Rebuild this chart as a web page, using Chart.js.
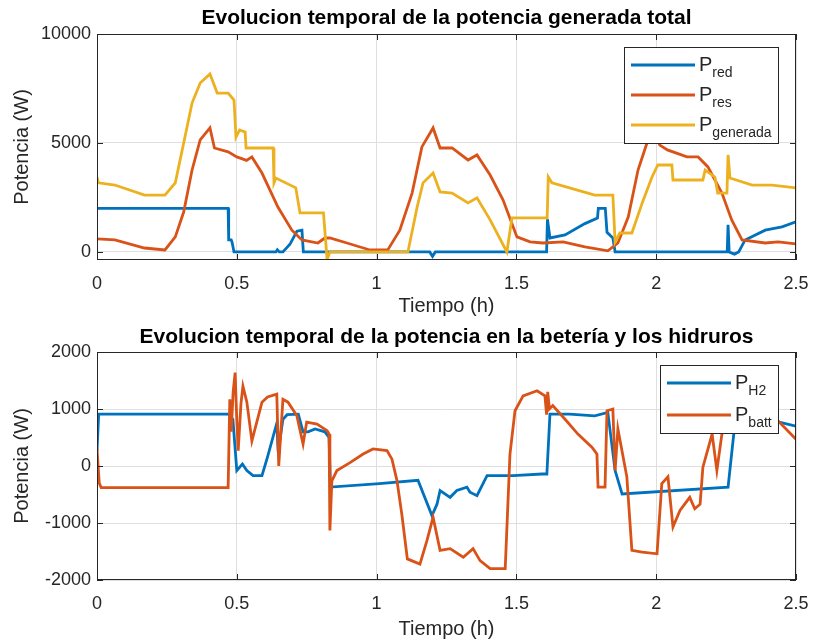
<!DOCTYPE html>
<html>
<head>
<meta charset="utf-8">
<script src="https://cdn.jsdelivr.net/npm/chart.js@4.4.1/dist/chart.umd.min.js"></script>
<style>
  body { margin: 0; background: #fff; }
  #wrap { position: relative; width: 813px; height: 641px; }
  canvas { position: absolute; left: 0; }
</style>
</head>
<body>
<div id="wrap">
  <canvas id="top" width="813" height="320" style="top:0;width:813px;height:320px"></canvas>
  <canvas id="bot" width="813" height="321" style="top:320px;width:813px;height:321px"></canvas>
</div>
<script>
// ticks
const xTicks = [0, 0.5, 1, 1.5, 2, 2.5];
const yTicksTop = [0, 5000, 10000];
const yTicksBot = [-2000, -1000, 0, 1000, 2000];

// --- potencia generada total (W) vs tiempo (h) ---
const tRed = [0, 0.469, 0.471, 0.48, 0.483, 0.49, 0.64, 0.645, 0.652, 0.665, 0.69, 0.715, 0.733, 0.738,
  1.19, 1.2, 1.21, 1.608, 1.611, 1.62, 1.674, 1.745, 1.79, 1.793, 1.818, 1.824, 1.845, 1.853,
  2.254, 2.257, 2.261, 2.28, 2.295, 2.318, 2.39, 2.45, 2.5];
const pRed = [2000, 2000, 550, 550, 450, 0, 0, 100, 0, 0, 350, 950, 1000, 0,
  0, -200, 0, 0, 1500, 640, 780, 1300, 1560, 2000, 2000, 900, 640, 0,
  0, 1240, 0, -100, 0, 550, 1000, 1150, 1380];

const tRes = [0, 0.064, 0.17, 0.243, 0.28, 0.31, 0.34, 0.369, 0.404, 0.42, 0.469, 0.50, 0.535, 0.554,
  0.59, 0.647, 0.697, 0.733, 0.79, 0.815, 0.833, 0.894, 0.976, 1.04, 1.083, 1.127, 1.162, 1.202,
  1.227, 1.27, 1.327, 1.359, 1.406, 1.452, 1.502, 1.549, 1.595, 1.667, 1.745, 1.827, 1.863, 1.90,
  1.935, 1.967, 1.985, 2.013, 2.04, 2.11, 2.15, 2.185, 2.235, 2.27, 2.307, 2.39, 2.436, 2.5];
const pRes = [600, 550, 180, 90, 690, 1830, 3760, 5140, 5690, 4770, 4590, 4360, 4200, 4360,
  3620, 2060, 1000, 550, 410, 640, 640, 410, 90, 90, 1000, 2700, 4820, 5690,
  4770, 4770, 4220, 4450, 3530, 2390, 690, 460, 410, 460, 230, 50, 410, 1600,
  3760, 5000, 5700, 4900, 4680, 4360, 4360, 3900, 2700, 1470, 550, 410, 460, 370];

const tGen = [0, 0.005, 0.064, 0.17, 0.243, 0.28, 0.31, 0.34, 0.369, 0.404, 0.43, 0.469, 0.49, 0.497,
  0.51, 0.53, 0.533, 0.63, 0.633, 0.64, 0.711, 0.726, 0.81, 0.823, 0.833, 1.112, 1.145, 1.166,
  1.202, 1.227, 1.27, 1.327, 1.359, 1.406, 1.466, 1.484, 1.61, 1.614, 1.627, 1.69, 1.78, 1.845,
  1.853, 1.87, 1.913, 1.95, 1.985, 2.006, 2.056, 2.06, 2.167, 2.175, 2.21, 2.22, 2.253, 2.257,
  2.264, 2.343, 2.414, 2.5];
const pGen = [3440, 3170, 3070, 2610, 2610, 3170, 5000, 6830, 7750, 8170, 7290, 7290, 6970, 5270,
  5600, 5500, 4770, 4770, 3170, 3390, 2940, 1790, 1790, -350, 0, 0, 2060, 3170,
  3620, 2750, 2700, 2250, 2480, 1470, 0, 1560, 1560, 3440, 3170, 2940, 2610, 2610,
  460, 870, 870, 2250, 3440, 3990, 3990, 3300, 3300, 3760, 3440, 2700, 2700, 4450,
  3390, 3070, 3070, 2940];

// --- potencia bateria / hidruros (W) vs tiempo (h) ---
const tH2 = [0, 0.006, 0.469, 0.486, 0.50, 0.52, 0.536, 0.558, 0.59, 0.61, 0.643, 0.648, 0.665, 0.68,
  0.72, 0.737, 0.755, 0.78, 0.815, 0.83, 0.835, 1.01, 1.148, 1.198, 1.216, 1.227, 1.263, 1.287,
  1.323, 1.334, 1.359, 1.395, 1.488, 1.592, 1.609, 1.62, 1.69, 1.78, 1.827, 1.853, 1.878, 2.257,
  2.28, 2.31, 2.4, 2.44, 2.5];
const pH2 = [270, 910, 910, 820, -80, 35, -80, -170, -170, 160, 750, 250, 820, 900,
  910, 600, 600, 650, 600, 500, -370, -310, -250, -870, -670, -430, -550, -430,
  -370, -460, -520, -170, -170, -140, -140, 910, 910, 880, 940, -80, -490, -370,
  680, 900, 850, 770, 700];

const tBatt = [0, 0.008, 0.015, 0.469, 0.475, 0.48, 0.487, 0.494, 0.50, 0.505, 0.515, 0.522, 0.536, 0.554,
  0.59, 0.61, 0.643, 0.65, 0.665, 0.683, 0.715, 0.737, 0.75, 0.787, 0.823, 0.83, 0.833, 0.84,
  0.858, 0.905, 0.952, 0.987, 1.037, 1.055, 1.073, 1.09, 1.11, 1.155, 1.18, 1.202, 1.227, 1.263,
  1.31, 1.345, 1.37, 1.406, 1.46, 1.477, 1.495, 1.524, 1.574, 1.602, 1.608, 1.612, 1.618, 1.63,
  1.674, 1.72, 1.77, 1.788, 1.792, 1.817, 1.824, 1.845, 1.853, 1.863, 1.895, 1.913, 1.95, 2.003,
  2.02, 2.042, 2.06, 2.085, 2.12, 2.138, 2.157, 2.167, 2.2, 2.217, 2.235, 2.26, 2.3, 2.4, 2.44, 2.5];
const pBatt = [300, -300, -380, -380, 1170, 600, 1300, 1640, 800, 270, 1100, 1400, 1120, 440,
  1120, 1210, 1260, 0, 1170, 1120, 880, 385, 770, 735, 620, 560, -1130, -260,
  -80, 60, 210, 300, 270, 120, -260, -840, -1630, -1720, -1310, -900, -1480, -1450,
  -1600, -1450, -1660, -1800, -1800, 210, 970, 1230, 1320, 1230, 900, 1300, 1000, 1060,
  820, 560, 330, 210, -370, -370, 970, 1000, -80, 650, -190, -1480, -1510, -1540,
  -310, -190, -1070, -780, -550, -750, -670, -20, 560, -80, 560, 900, 950, 950, 770, 470];

const BLUE = '#0072BD', ORANGE = '#D95319', YELLOW = '#EDB120';
const INK = '#262626';
const FONT = "'Liberation Sans', Arial, Helvetica, sans-serif";

const zip = (t, p) => t.map((x, i) => ({ x, y: p[i] }));

// caja de ejes estilo MATLAB, con marcas hacia dentro
const boxPlugin = {
  id: 'box',
  afterDatasetsDraw(chart) {
    const { ctx, chartArea: a, scales } = chart;
    ctx.save();
    ctx.strokeStyle = INK;
    ctx.lineWidth = 1;
    ctx.strokeRect(a.left + 0.5, a.top + 0.5, a.width - 1, a.height - 1);
    ctx.beginPath();
    for (const t of scales.x.ticks) {
      const px = Math.round(scales.x.getPixelForValue(t.value)) + 0.5;
      ctx.moveTo(px, a.bottom); ctx.lineTo(px, a.bottom - 6);
      ctx.moveTo(px, a.top); ctx.lineTo(px, a.top + 6);
    }
    for (const t of scales.y.ticks) {
      const py = Math.round(scales.y.getPixelForValue(t.value)) + 0.5;
      ctx.moveTo(a.left, py); ctx.lineTo(a.left + 6, py);
      ctx.moveTo(a.right, py); ctx.lineTo(a.right - 6, py);
    }
    ctx.stroke();
    ctx.restore();
  }
};

// leyenda con subindices (P_red, P_H2 ...)
const subLegend = {
  id: 'subLegend',
  afterDraw(chart, args, opts) {
    const { ctx, chartArea: a } = chart;
    const big = `20px ${FONT}`, small = `14px ${FONT}`;
    const items = chart.data.datasets.map(d => {
      const [b, s] = d.label.split('_');
      return { b, s, c: d.borderColor };
    });
    ctx.save();
    let tw = 0;
    items.forEach(it => {
      ctx.font = big; it.w1 = ctx.measureText(it.b).width;
      ctx.font = small; tw = Math.max(tw, it.w1 + ctx.measureText(it.s).width);
    });
    const lineLen = 64, padL = 7, gap = 4, padR = 6;
    const w = Math.round(padL + lineLen + gap + tw + padR);
    const h = opts.padV * 2 + opts.rowH * (items.length - 1);
    const x = Math.round(a.right - opts.right - w), y = Math.round(a.top + opts.top);
    ctx.fillStyle = '#fff';
    ctx.fillRect(x, y, w, h);
    ctx.strokeStyle = INK; ctx.lineWidth = 1;
    ctx.strokeRect(x + 0.5, y + 0.5, w, h);
    items.forEach((it, i) => {
      const cy = y + opts.padV + i * opts.rowH;
      ctx.strokeStyle = it.c; ctx.lineWidth = 2.8;
      ctx.beginPath(); ctx.moveTo(x + padL, cy); ctx.lineTo(x + padL + lineLen, cy); ctx.stroke();
      ctx.fillStyle = INK; ctx.textBaseline = 'alphabetic'; ctx.textAlign = 'left';
      ctx.font = big; ctx.fillText(it.b, x + padL + lineLen + gap, cy + 6);
      ctx.font = small; ctx.fillText(it.s, x + padL + lineLen + gap + it.w1, cy + 12);
    });
    ctx.restore();
  }
};

function makeChart(id, cfg) {
  return new Chart(document.getElementById(id), {
    type: 'line',
    data: { datasets: cfg.datasets },
    options: {
      responsive: false,
      animation: false,
      devicePixelRatio: 1,
      layout: { padding: { left: 0, right: 17, top: 0, bottom: 0 } },
      elements: { point: { radius: 0 }, line: { borderWidth: 2.8, tension: 0 } },
      plugins: {
        legend: { display: false },
        tooltip: { enabled: false },
        title: {
          display: true, text: cfg.title, fullSize: false, color: '#000',
          font: { family: FONT, size: 21, weight: 'bold', lineHeight: 1.2 },
          padding: cfg.titlePad
        },
        subLegend: cfg.legend
      },
      scales: {
        x: {
          type: 'linear', min: 0, max: 2.5,
          afterBuildTicks: s => { s.ticks = xTicks.map(v => ({ value: v })); },
          afterFit: s => { s.height = cfg.xHeight; s.paddingLeft = 0; s.paddingRight = 0; },
          grid: { color: '#dfdfdf', drawTicks: false },
          border: { display: false },
          ticks: { color: INK, font: { family: FONT, size: 18 }, padding: 13, maxRotation: 0, autoSkip: false, callback: v => String(v) },
          title: { display: true, text: 'Tiempo (h)', color: INK, font: { family: FONT, size: 20, lineHeight: 1.2 }, padding: { top: 0, bottom: cfg.xTitlePad } }
        },
        y: {
          min: cfg.yMin, max: cfg.yMax,
          afterBuildTicks: s => { s.ticks = cfg.yTicks.map(v => ({ value: v })); },
          afterFit: s => { s.width = 97; },
          grid: { color: '#dfdfdf', drawTicks: false },
          border: { display: false },
          ticks: { color: INK, font: { family: FONT, size: 18 }, padding: 6, autoSkip: false, callback: v => String(v) },
          title: { display: true, text: 'Potencia (W)', color: INK, font: { family: FONT, size: 20, lineHeight: 1.2 }, padding: { top: 10, bottom: 0 } }
        }
      }
    },
    plugins: [boxPlugin, subLegend]
  });
}

makeChart('top', {
  title: 'Evolucion temporal de la potencia generada total',
  titlePad: { top: 6, bottom: 2.8 },
  xHeight: 60, xTitlePad: 2,
  yMin: -370, yMax: 10000, yTicks: yTicksTop,
  legend: { right: 18, top: 13, padV: 18, rowH: 30 },
  datasets: [
    { label: 'P_red', data: zip(tRed, pRed), borderColor: BLUE, order: 2 },
    { label: 'P_res', data: zip(tRes, pRes), borderColor: ORANGE, order: 1 },
    { label: 'P_generada', data: zip(tGen, pGen), borderColor: YELLOW, order: 0 }
  ]
});

makeChart('bot', {
  title: 'Evolucion temporal de la potencia en la betería y los hidruros',
  titlePad: { top: 5, bottom: 1.8 },
  xHeight: 61, xTitlePad: 0,
  yMin: -2000, yMax: 2000, yTicks: yTicksBot,
  legend: { right: 18, top: 13, padV: 18, rowH: 32 },
  datasets: [
    { label: 'P_H2', data: zip(tH2, pH2), borderColor: BLUE, order: 1 },
    { label: 'P_batt', data: zip(tBatt, pBatt), borderColor: ORANGE, order: 0 }
  ]
});
</script>
</body>
</html>
